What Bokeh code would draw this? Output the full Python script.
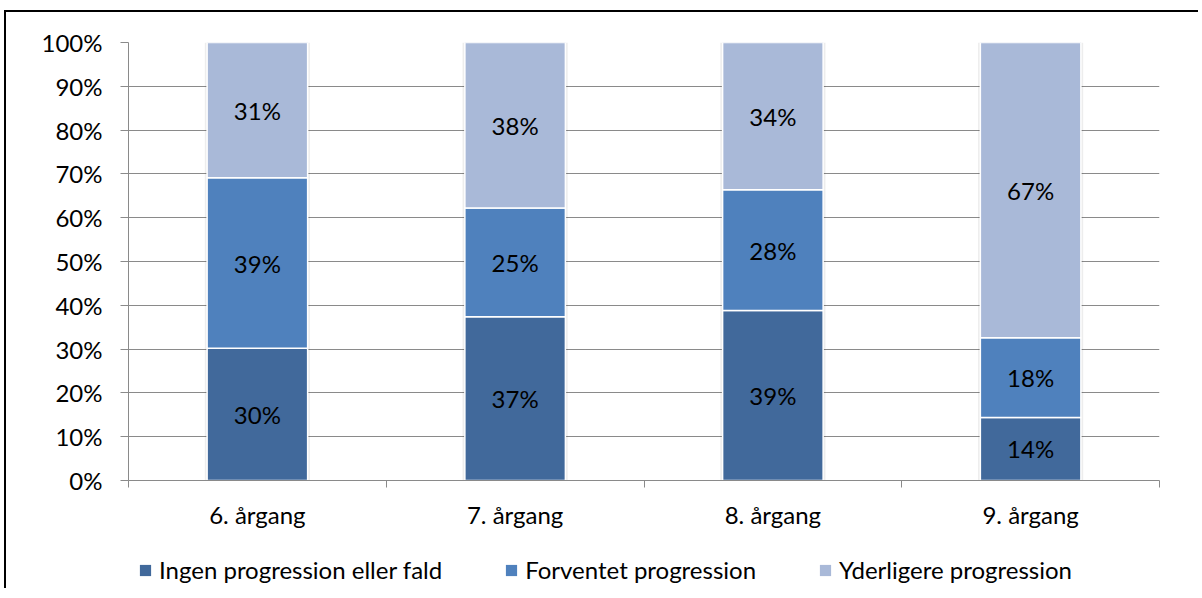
import numpy as np
from bokeh.plotting import figure
from bokeh.layouts import column
from bokeh.models import Range1d, FixedTicker, Legend, LegendItem, ColumnDataSource
from bokeh.embed import file_html
from bokeh.resources import INLINE
from bokeh.core.properties import value

# ---- data ----
categories = ["6. årgang", "7. årgang", "8. årgang", "9. årgang"]
series_names = ["Ingen progression eller fald", "Forventet progression", "Yderligere progression"]
ingen = [30.2, 37.4, 38.8, 14.4]
forventet = [38.9, 24.8, 27.6, 18.2]
yderligere = [30.9, 37.8, 33.6, 67.4]
y_ticks = [0, 10, 20, 30, 40, 50, 60, 70, 80, 90, 100]

colors = ["#41699B", "#4F81BD", "#A9B9D8"]
FONT = "Lato"
FS = "24px"
GRAY = "#8a8a8a"
W = 1192

n = len(categories)
centers = [i + 0.5 for i in range(n)]
series = [ingen, forventet, yderligere]

p = figure(width=W, height=536, output_backend="svg", toolbar_location=None,
           x_range=Range1d(0, n), y_range=Range1d(0, 100),
           min_border_left=122, min_border_right=W - 1153, min_border_top=30, min_border_bottom=68)
p.outline_line_color = None
p.background_fill_color = "white"
p.border_fill_color = "white"

# y axis
p.yaxis.ticker = FixedTicker(ticks=y_ticks)
p.yaxis.major_label_overrides = {t: f"{t}%" for t in y_ticks}
p.yaxis.axis_line_color = GRAY
p.yaxis.major_tick_line_color = GRAY
p.yaxis.major_tick_out = 8
p.yaxis.major_tick_in = 0
p.yaxis.minor_tick_line_color = None
p.yaxis.major_label_standoff = 18
p.yaxis.major_label_text_font = FONT
p.yaxis.major_label_text_font_size = FS
p.yaxis.major_label_text_color = "black"

# x axis
p.xaxis.ticker = FixedTicker(ticks=centers, minor_ticks=list(range(n + 1)))
p.xaxis.major_label_overrides = {c: cat for c, cat in zip(centers, categories)}
p.xaxis.axis_line_color = GRAY
p.xaxis.major_tick_line_color = None
p.xaxis.major_tick_out = 0
p.xaxis.major_tick_in = 0
p.xaxis.minor_tick_line_color = GRAY
p.xaxis.minor_tick_out = 7
p.xaxis.minor_tick_in = 0
p.xaxis.major_label_standoff = 12
p.xaxis.major_label_text_font = FONT
p.xaxis.major_label_text_font_size = FS
p.xaxis.major_label_text_color = "black"

p.xgrid.grid_line_color = None
p.ygrid.ticker = FixedTicker(ticks=y_ticks)
p.ygrid.grid_line_color = GRAY
p.ygrid.grid_line_width = 1

bar_w = 0.39
totals = np.sum(np.array(series), axis=0)
p.vbar(x=centers, bottom=0, top=totals, width=bar_w + 0.018,
       fill_color="black", fill_alpha=0.07, line_color=None)

bottom = np.zeros(n)
for name, vals, col in zip(series_names, series, colors):
    vals = np.array(vals)
    top = bottom + vals
    src = ColumnDataSource(dict(x=centers, bottom=bottom, top=top,
                                mid=(bottom + top) / 2,
                                lab=[f"{v:.0f}%" for v in vals]))
    p.vbar(x="x", bottom="bottom", top="top", width=bar_w, source=src,
           fill_color=col, line_color="white", line_width=1.5)
    p.text(x="x", y="mid", text="lab", source=src, text_align="center",
           text_baseline="middle", text_font=value(FONT), text_font_size=FS,
           text_color="black")
    bottom = top

# ---- legend strip (swatches reference hidden off-range glyphs) ----
lf = figure(width=W, height=40, output_backend="svg", toolbar_location=None,
            x_range=Range1d(0, 1), y_range=Range1d(0, 1),
            x_axis_type=None, y_axis_type=None, min_border=0)
lf.outline_line_color = None
lf.xgrid.grid_line_color = None
lf.ygrid.grid_line_color = None
items = []
for nm, col in zip(series_names, colors):
    r = lf.vbar(x=[0.5], bottom=[-3], top=[-2], width=0.1, fill_color=col, line_color=None)
    items.append(LegendItem(label=nm, renderers=[r]))
legend = Legend(items=items, orientation="horizontal", location=(10, 4),
                glyph_width=14, glyph_height=14, label_standoff=7, spacing=62,
                label_text_font=FONT, label_text_font_size=FS, label_text_color="black",
                border_line_color=None, background_fill_alpha=0, padding=2, margin=0)
lf.add_layout(legend, "center")

layout = column(p, lf, spacing=0)
layout.styles = {"border-left": "2px solid black", "border-top": "2px solid black",
                 "border-right": "0px none", "border-bottom": "0px none",
                 "margin-left": "4px", "margin-top": "10px"}

open("out.html", "w").write(file_html(layout, INLINE))
